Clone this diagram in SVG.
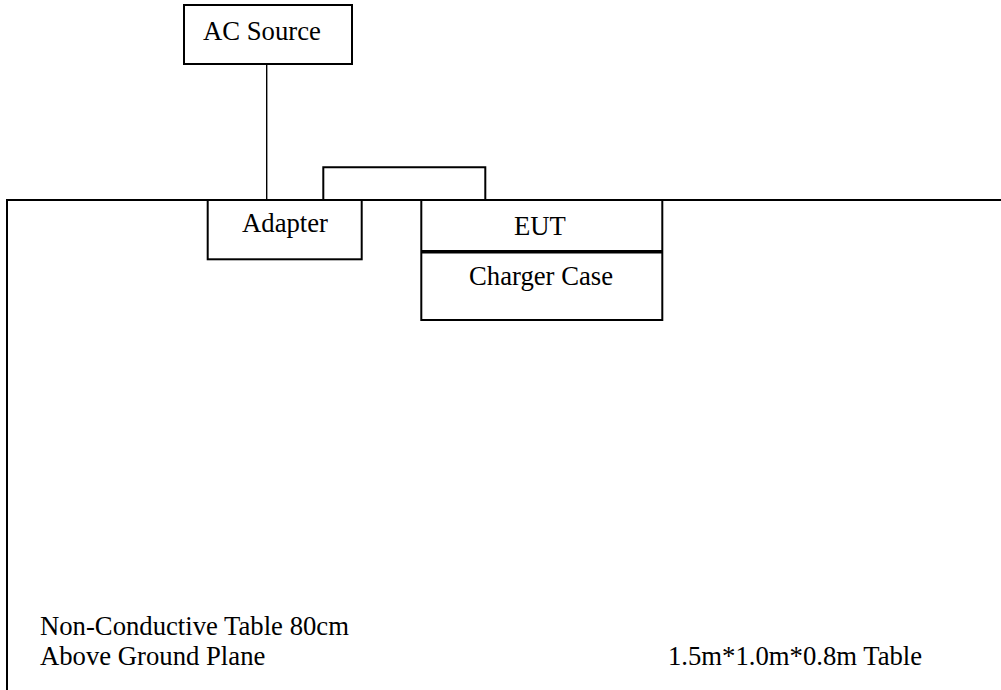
<svg xmlns="http://www.w3.org/2000/svg" width="1001" height="690" viewBox="0 0 1001 690">
<style>
.box{fill:#fff;stroke:#000;stroke-width:2}
.ln{fill:none;stroke:#000;stroke-width:2}
.thin{fill:none;stroke:#000;stroke-width:1.4}
.t{font-family:"Liberation Serif","Times New Roman",serif;font-size:26.7px;fill:#000}
.c{text-anchor:middle}
</style>
<rect width="1001" height="690" fill="#fff"/>
<g id="connectors">
<line class="thin" x1="266.7" y1="64" x2="266.7" y2="200"/>
<path class="ln" d="M323.3,200 V167.3 H485.3 V200"/>
</g>
<g id="table">
<path class="ln" d="M7,691 V200 H1002"/>
<text class="t" x="40" y="635">Non-Conductive Table 80cm</text>
<text class="t" x="40" y="665">Above Ground Plane</text>
<text class="t" x="668" y="665">1.5m*1.0m*0.8m Table</text>
</g>
<g id="ac-source">
<rect class="box" x="184" y="5" width="168" height="59"/>
<text class="t" x="203" y="39.5">AC Source</text>
</g>
<g id="adapter">
<rect class="box" x="207.7" y="200" width="154" height="59.3"/>
<text class="t c" x="285" y="231.7">Adapter</text>
</g>
<g id="eut">
<rect class="box" x="421.3" y="200" width="241" height="120"/>
<line x1="421.3" y1="251.7" x2="662.3" y2="251.7" stroke="#000" stroke-width="3.5"/>
<text class="t c" x="540" y="235">EUT</text>
<text class="t c" x="541" y="285">Charger Case</text>
</g>
</svg>
